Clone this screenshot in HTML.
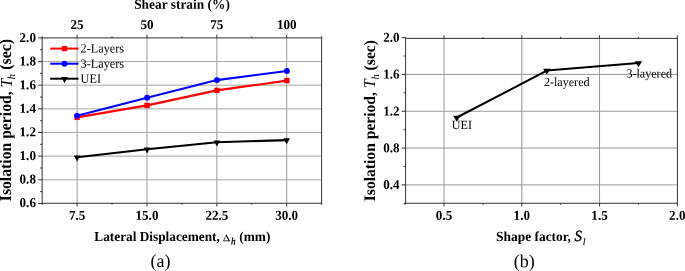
<!DOCTYPE html>
<html><head><meta charset="utf-8"><title>fig</title>
<style>
html,body{margin:0;padding:0;background:#fff;}
body{width:685px;height:271px;overflow:hidden;}
svg{display:block;}
text{font-family:"Liberation Serif",serif;fill:#000;text-rendering:geometricPrecision;}
.b{font-weight:bold;}
.tk{font-weight:bold;font-size:13.1px;}
.ax{font-weight:bold;font-size:13.3px;}
.yl{font-weight:bold;font-size:15.85px;}
.an{font-size:12.1px;}
.cap{font-size:18px;}
.grid{stroke:#a8a8a8;stroke-width:1;}
.gv{stroke:#9a9a9a;}
.gb{stroke:#989898;}
.fr{stroke:#333;stroke-width:1;fill:none;}
.t{stroke:#333;stroke-width:1;}
</style></head><body>
<svg style="will-change:transform" width="685" height="271" viewBox="0 0 685 271">
<rect width="685" height="271" fill="#fff"/>

<line class="grid gv" x1="77.1" y1="37.9" x2="77.1" y2="203.25"/>
<line class="grid gv" x1="146.97" y1="37.9" x2="146.97" y2="203.25"/>
<line class="grid gv" x1="216.83" y1="37.9" x2="216.83" y2="203.25"/>
<line class="grid gv" x1="286.7" y1="37.9" x2="286.7" y2="203.25"/>
<line class="grid" x1="42.15" y1="179.8" x2="321.6" y2="179.8"/>
<line class="grid" x1="42.15" y1="156.15" x2="321.6" y2="156.15"/>
<line class="grid" x1="42.15" y1="132.5" x2="321.6" y2="132.5"/>
<line class="grid" x1="42.15" y1="108.85" x2="321.6" y2="108.85"/>
<line class="grid" x1="42.15" y1="85.2" x2="321.6" y2="85.2"/>
<line class="grid" x1="42.15" y1="61.55" x2="321.6" y2="61.55"/>
<rect class="fr" x="42.15" y="37.9" width="279.45" height="165.35"/>
<line class="t" x1="38.15" y1="203.45" x2="42.15" y2="203.45"/>
<line class="t" x1="40.15" y1="191.62" x2="42.15" y2="191.62"/>
<line class="t" x1="38.15" y1="179.8" x2="42.15" y2="179.8"/>
<line class="t" x1="40.15" y1="167.97" x2="42.15" y2="167.97"/>
<line class="t" x1="38.15" y1="156.15" x2="42.15" y2="156.15"/>
<line class="t" x1="40.15" y1="144.32" x2="42.15" y2="144.32"/>
<line class="t" x1="38.15" y1="132.5" x2="42.15" y2="132.5"/>
<line class="t" x1="40.15" y1="120.67" x2="42.15" y2="120.67"/>
<line class="t" x1="38.15" y1="108.85" x2="42.15" y2="108.85"/>
<line class="t" x1="40.15" y1="97.02" x2="42.15" y2="97.02"/>
<line class="t" x1="38.15" y1="85.2" x2="42.15" y2="85.2"/>
<line class="t" x1="40.15" y1="73.37" x2="42.15" y2="73.37"/>
<line class="t" x1="38.15" y1="61.55" x2="42.15" y2="61.55"/>
<line class="t" x1="40.15" y1="49.72" x2="42.15" y2="49.72"/>
<line class="t" x1="38.15" y1="37.9" x2="42.15" y2="37.9"/>
<line class="t" x1="42.17" y1="203.25" x2="42.17" y2="204.85"/>
<line class="t" x1="42.17" y1="37.9" x2="42.17" y2="36.3"/>
<line class="t" x1="77.1" y1="203.25" x2="77.1" y2="206.45"/>
<line class="t" x1="77.1" y1="37.9" x2="77.1" y2="34.7"/>
<line class="t" x1="112.03" y1="203.25" x2="112.03" y2="204.85"/>
<line class="t" x1="112.03" y1="37.9" x2="112.03" y2="36.3"/>
<line class="t" x1="146.97" y1="203.25" x2="146.97" y2="206.45"/>
<line class="t" x1="146.97" y1="37.9" x2="146.97" y2="34.7"/>
<line class="t" x1="181.9" y1="203.25" x2="181.9" y2="204.85"/>
<line class="t" x1="181.9" y1="37.9" x2="181.9" y2="36.3"/>
<line class="t" x1="216.83" y1="203.25" x2="216.83" y2="206.45"/>
<line class="t" x1="216.83" y1="37.9" x2="216.83" y2="34.7"/>
<line class="t" x1="251.77" y1="203.25" x2="251.77" y2="204.85"/>
<line class="t" x1="251.77" y1="37.9" x2="251.77" y2="36.3"/>
<line class="t" x1="286.7" y1="203.25" x2="286.7" y2="206.45"/>
<line class="t" x1="286.7" y1="37.9" x2="286.7" y2="34.7"/>
<line class="t" x1="321.63" y1="203.25" x2="321.63" y2="204.85"/>
<line class="t" x1="321.63" y1="37.9" x2="321.63" y2="36.3"/>
<text class="tk" text-anchor="end" transform="matrix(1,0.0005,0,1.03,35.95,207.1)">0.6</text>
<text class="tk" text-anchor="end" transform="matrix(1,0.0005,0,1.03,35.95,183.51)">0.8</text>
<text class="tk" text-anchor="end" transform="matrix(1,0.0005,0,1.03,35.95,159.91)">1.0</text>
<text class="tk" text-anchor="end" transform="matrix(1,0.0005,0,1.03,35.95,136.32)">1.2</text>
<text class="tk" text-anchor="end" transform="matrix(1,0.0005,0,1.03,35.95,112.73)">1.4</text>
<text class="tk" text-anchor="end" transform="matrix(1,0.0005,0,1.03,35.95,89.14)">1.6</text>
<text class="tk" text-anchor="end" transform="matrix(1,0.0005,0,1.03,35.95,65.54)">1.8</text>
<text class="tk" text-anchor="end" transform="matrix(1,0.0005,0,1.03,35.95,41.95)">2.0</text>
<text class="tk" text-anchor="middle" transform="matrix(1,0.0005,0,1.03,77.1,219.8)">7.5</text>
<text class="tk" text-anchor="middle" transform="matrix(1,0.0005,0,1.03,77.1,29.1)">25</text>
<text class="tk" text-anchor="middle" transform="matrix(1,0.0005,0,1.03,146.97,219.8)">15.0</text>
<text class="tk" text-anchor="middle" transform="matrix(1,0.0005,0,1.03,146.97,29.1)">50</text>
<text class="tk" text-anchor="middle" transform="matrix(1,0.0005,0,1.03,216.83,219.8)">22.5</text>
<text class="tk" text-anchor="middle" transform="matrix(1,0.0005,0,1.03,216.83,29.1)">75</text>
<text class="tk" text-anchor="middle" transform="matrix(1,0.0005,0,1.03,286.7,219.8)">30.0</text>
<text class="tk" text-anchor="middle" transform="matrix(1,0.0005,0,1.03,286.7,29.1)">100</text>
<text class="ax" text-anchor="middle" style="font-size:13.4px" transform="matrix(1,0.0005,0,1.03,182,8.8)">Shear strain (%)</text>
<text class="ax" text-anchor="start" transform="matrix(1,0.0005,0,1.03,94.3,241.0)">Lateral Displacement,</text>
<path fill="#000" fill-rule="evenodd" d="M223 241.2 L226.3 234.3 L230.2 241.2 Z M224.1 240.5 L228.4 240.5 L225.9 236.0 Z"/>
<text class="ax" style="font-weight:normal;font-style:italic;font-size:9.2px" stroke="#000" stroke-width="0.3" transform="matrix(1,0.0005,0,1.03,231.0,244.2)">h</text>
<text class="ax" transform="matrix(1,0.0005,0,1.03,239.3,241.0)">(mm)</text>
<text id="yla1" class="yl" style="font-size:15.7px" text-anchor="start" transform="translate(11.3,201.2) rotate(-90) scale(1,1.06)">Isolation period, <tspan font-style="italic" font-weight="normal" font-size="15.9px" dy="0.2">T</tspan><tspan font-style="italic" font-weight="normal" font-size="10.4px" dy="3.3" dx="-0.6">h</tspan></text>
<text id="yla2" class="yl" style="font-size:15.9px" text-anchor="end" transform="translate(11.0,38.9) rotate(-90) scale(1,1.04)">(sec)</text>
<text class="cap" text-anchor="middle" transform="matrix(1,0.0005,0,1.03,160.5,266.9)">(a)</text>
<polyline fill="none" stroke="#000" stroke-width="2.1" stroke-linejoin="round" points="77.1,157.3 147.1,149.2 216.9,142.2 286.7,140.1"/>
<path fill="#000" d="M73.8 155.5 L80.4 155.5 L77.1 161.5 Z"/>
<path fill="#000" d="M143.8 147.4 L150.4 147.4 L147.1 153.4 Z"/>
<path fill="#000" d="M213.6 140.4 L220.2 140.4 L216.9 146.4 Z"/>
<path fill="#000" d="M283.4 138.3 L290 138.3 L286.7 144.3 Z"/>
<polyline fill="none" stroke="#f00" stroke-width="2.1" stroke-linejoin="round" points="77.1,117.4 147.1,105.4 216.9,90.4 286.9,80.6"/>
<rect fill="#f00" x="74.45" y="114.75" width="5.3" height="5.3"/>
<rect fill="#f00" x="144.45" y="102.75" width="5.3" height="5.3"/>
<rect fill="#f00" x="214.25" y="87.75" width="5.3" height="5.3"/>
<rect fill="#f00" x="284.25" y="77.95" width="5.3" height="5.3"/>
<polyline fill="none" stroke="#00f" stroke-width="2.1" stroke-linejoin="round" points="77.1,115.7 147.1,97.8 216.9,80.1 286.9,71"/>
<circle fill="#00f" cx="77.1" cy="115.7" r="2.95"/>
<circle fill="#00f" cx="147.1" cy="97.8" r="2.95"/>
<circle fill="#00f" cx="216.9" cy="80.1" r="2.95"/>
<circle fill="#00f" cx="286.9" cy="71" r="2.95"/>
<line stroke="#f00" stroke-width="2.0" x1="50.2" y1="48.6" x2="78.5" y2="48.6"/>
<rect fill="#f00" x="61.85" y="45.95" width="5.3" height="5.3"/>
<text class="an" style="font-size:12.25px" transform="matrix(1,0.0005,0,1.03,80.6,52.6)">2-Layers</text>
<line stroke="#00f" stroke-width="2.0" x1="50.2" y1="63.7" x2="78.5" y2="63.7"/>
<circle fill="#00f" cx="64.5" cy="63.7" r="2.95"/>
<text class="an" style="font-size:12.25px" transform="matrix(1,0.0005,0,1.03,80.6,67.7)">3-Layers</text>
<line stroke="#000" stroke-width="2.0" x1="50.2" y1="78.7" x2="78.5" y2="78.7"/>
<path fill="#000" d="M61.2 76.9 L67.8 76.9 L64.5 82.9 Z"/>
<text class="an" style="font-size:12.25px" transform="matrix(1,0.0005,0,1.03,80.6,82.7)">UEI</text>
<line class="grid gb" x1="444.05" y1="38.4" x2="444.05" y2="203.25"/>
<line class="grid gb" x1="521.8" y1="38.4" x2="521.8" y2="203.25"/>
<line class="grid gb" x1="599.55" y1="38.4" x2="599.55" y2="203.25"/>
<line class="grid gb" x1="405.6" y1="184.89" x2="677.4" y2="184.89"/>
<line class="grid gb" x1="405.6" y1="148.07" x2="677.4" y2="148.07"/>
<line class="grid gb" x1="405.6" y1="111.24" x2="677.4" y2="111.24"/>
<line class="grid gb" x1="405.6" y1="74.42" x2="677.4" y2="74.42"/>
<rect class="fr" x="405.6" y="38.4" width="271.8" height="164.85"/>
<line class="t" x1="403.6" y1="203.3" x2="405.6" y2="203.3"/>
<line class="t" x1="401.6" y1="184.89" x2="405.6" y2="184.89"/>
<line class="t" x1="403.6" y1="166.48" x2="405.6" y2="166.48"/>
<line class="t" x1="401.6" y1="148.07" x2="405.6" y2="148.07"/>
<line class="t" x1="403.6" y1="129.66" x2="405.6" y2="129.66"/>
<line class="t" x1="401.6" y1="111.24" x2="405.6" y2="111.24"/>
<line class="t" x1="403.6" y1="92.83" x2="405.6" y2="92.83"/>
<line class="t" x1="401.6" y1="74.42" x2="405.6" y2="74.42"/>
<line class="t" x1="403.6" y1="56.01" x2="405.6" y2="56.01"/>
<line class="t" x1="401.6" y1="37.6" x2="405.6" y2="37.6"/>
<line class="t" x1="405.18" y1="203.25" x2="405.18" y2="204.85"/>
<line class="t" x1="405.18" y1="38.4" x2="405.18" y2="36.8"/>
<line class="t" x1="444.05" y1="203.25" x2="444.05" y2="206.45"/>
<line class="t" x1="444.05" y1="38.4" x2="444.05" y2="35.2"/>
<line class="t" x1="482.93" y1="203.25" x2="482.93" y2="204.85"/>
<line class="t" x1="482.93" y1="38.4" x2="482.93" y2="36.8"/>
<line class="t" x1="521.8" y1="203.25" x2="521.8" y2="206.45"/>
<line class="t" x1="521.8" y1="38.4" x2="521.8" y2="35.2"/>
<line class="t" x1="560.67" y1="203.25" x2="560.67" y2="204.85"/>
<line class="t" x1="560.67" y1="38.4" x2="560.67" y2="36.8"/>
<line class="t" x1="599.55" y1="203.25" x2="599.55" y2="206.45"/>
<line class="t" x1="599.55" y1="38.4" x2="599.55" y2="35.2"/>
<line class="t" x1="638.42" y1="203.25" x2="638.42" y2="204.85"/>
<line class="t" x1="638.42" y1="38.4" x2="638.42" y2="36.8"/>
<line class="t" x1="677.3" y1="203.25" x2="677.3" y2="206.45"/>
<line class="t" x1="677.3" y1="38.4" x2="677.3" y2="35.2"/>
<text class="tk" text-anchor="end" transform="matrix(1,0.0005,0,1.03,399.5,189.09)">0.4</text>
<text class="tk" text-anchor="end" transform="matrix(1,0.0005,0,1.03,399.5,152.27)">0.8</text>
<text class="tk" text-anchor="end" transform="matrix(1,0.0005,0,1.03,399.5,115.44)">1.2</text>
<text class="tk" text-anchor="end" transform="matrix(1,0.0005,0,1.03,399.5,78.62)">1.6</text>
<text class="tk" text-anchor="end" transform="matrix(1,0.0005,0,1.03,399.5,41.8)">2.0</text>
<text class="tk" text-anchor="middle" transform="matrix(1,0.0005,0,1.03,444.05,219.7)">0.5</text>
<text class="tk" text-anchor="middle" transform="matrix(1,0.0005,0,1.03,521.8,219.7)">1.0</text>
<text class="tk" text-anchor="middle" transform="matrix(1,0.0005,0,1.03,599.55,219.7)">1.5</text>
<text class="tk" text-anchor="middle" transform="matrix(1,0.0005,0,1.03,677.3,219.7)">2.0</text>
<text class="ax" style="font-size:13.45px" text-anchor="start" transform="matrix(1,0.0005,0,1.03,496.0,241.0)">Shape factor, <tspan font-style="italic" font-weight="normal" font-size="15px" dx="0.2" stroke="#000" stroke-width="0.35">S</tspan><tspan font-style="italic" font-weight="normal" font-size="9.8px" dy="3.6" dx="0.5">I</tspan></text>
<text id="ylb" class="yl" style="font-size:15.6px" text-anchor="middle" transform="translate(374.5,120.65) rotate(-90) scale(1,1.03)">Isolation period, <tspan font-style="italic" font-weight="normal" font-size="16px" dy="0">T</tspan><tspan font-style="italic" font-weight="normal" font-size="10.6px" dy="3.9" dx="-0.3">h</tspan><tspan dy="-3.9"> (sec)</tspan></text>
<text class="cap" text-anchor="middle" transform="matrix(1,0.0005,0,1.03,524.3,267.2)">(b)</text>
<polyline fill="none" stroke="#000" stroke-width="2.0" stroke-linejoin="round" points="456.8,117.5 546.8,70.6 638.5,63"/>
<path fill="#000" d="M453.1 115.7 L460.5 115.7 L456.8 121.7 Z"/>
<path fill="#000" d="M543.1 68.8 L550.5 68.8 L546.8 74.8 Z"/>
<path fill="#000" d="M634.8 61.2 L642.2 61.2 L638.5 67.2 Z"/>
<text class="an" transform="matrix(1,0.0005,0,1.03,451.8,128.9)">UEI</text>
<text class="an" transform="matrix(1,0.0005,0,1.03,543.9,85.9)">2-layered</text>
<text class="an" transform="matrix(1,0.0005,0,1.03,626.4,77.4)">3-layered</text>
</svg></body></html>
